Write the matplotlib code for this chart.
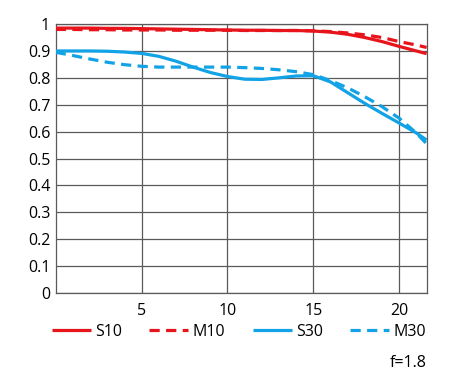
import matplotlib
matplotlib.use("Agg")
import matplotlib.pyplot as plt
from matplotlib.lines import Line2D

plt.rcParams['font.family'] = ['Open Sans', 'DejaVu Sans']

x = [0, 1, 2, 3, 4, 5, 6, 7, 8, 9, 10, 11, 12, 13, 14, 15, 16, 17, 18, 19, 20, 21, 21.6]
s10 = [0.985, 0.985, 0.985, 0.984, 0.984, 0.983, 0.982, 0.981, 0.980, 0.979, 0.978, 0.977, 0.977, 0.976, 0.976, 0.974, 0.970, 0.962, 0.950, 0.935, 0.917, 0.900, 0.890]
m10 = [0.980, 0.980, 0.979, 0.979, 0.978, 0.978, 0.978, 0.977, 0.977, 0.977, 0.977, 0.976, 0.976, 0.976, 0.976, 0.975, 0.972, 0.967, 0.960, 0.950, 0.935, 0.922, 0.913]
s30 = [0.900, 0.900, 0.900, 0.899, 0.896, 0.891, 0.880, 0.862, 0.840, 0.820, 0.805, 0.795, 0.794, 0.800, 0.807, 0.808, 0.785, 0.745, 0.705, 0.668, 0.632, 0.595, 0.569]
m30 = [0.895, 0.883, 0.870, 0.858, 0.849, 0.843, 0.840, 0.840, 0.840, 0.840, 0.840, 0.838, 0.835, 0.830, 0.823, 0.812, 0.790, 0.763, 0.730, 0.693, 0.650, 0.595, 0.555]

series_names = ["S10", "M10", "S30", "M30"]
xticks = [5, 10, 15, 20]
yticks = [0, 0.1, 0.2, 0.3, 0.4, 0.5, 0.6, 0.7, 0.8, 0.9, 1]
ytick_labels = ["0", "0.1", "0.2", "0.3", "0.4", "0.5", "0.6", "0.7", "0.8", "0.9", "1"]
note = "f=1.8"

RED = "#e8141c"
BLUE = "#12a2e6"
GRID = "#5a5a5a"

fig = plt.figure(figsize=(4.5, 3.82), dpi=100)
ax = fig.add_axes([0.1238, 0.233, 0.948 - 0.1238, 0.937 - 0.233])

lw = 2.3
dash = (3.2, 2.0)
ax.plot(x, s10, color=RED, lw=lw, solid_capstyle='butt', zorder=3)
ax.plot(x, m10, color=RED, lw=lw, dashes=dash, zorder=3)
ax.plot(x, s30, color=BLUE, lw=lw, solid_capstyle='butt', zorder=3)
ax.plot(x, m30, color=BLUE, lw=lw, dashes=dash, zorder=3)

ax.set_xlim(0, 21.6)
ax.set_ylim(0, 1)
ax.set_xticks(xticks)
ax.set_xticklabels([str(t) for t in xticks])
ax.set_yticks(yticks)
ax.set_yticklabels(ytick_labels)
ax.tick_params(axis='both', length=0, labelsize=11.5, colors='black')
ax.tick_params(axis='x', pad=7)
ax.tick_params(axis='y', pad=4)
ax.grid(True, color=GRID, lw=0.9)
for sp in ax.spines.values():
    sp.set_color(GRID)
    sp.set_linewidth(0.9)

handles = [
    Line2D([], [], color=RED, lw=lw, solid_capstyle='butt'),
    Line2D([], [], color=RED, lw=lw, dashes=dash),
    Line2D([], [], color=BLUE, lw=lw, solid_capstyle='butt'),
    Line2D([], [], color=BLUE, lw=lw, dashes=dash),
]
fig.legend(handles, series_names, ncol=4, loc='center left',
           bbox_to_anchor=(0.115, (382 - 332) / 382), frameon=False,
           fontsize=11.5, handlelength=2.45, handletextpad=0.25,
           columnspacing=1.72, borderaxespad=0, borderpad=0)

fig.text(427 / 450, (382 - 363) / 382, note, ha='right', va='center', fontsize=11.5)

fig.savefig("out.png", dpi=100)
